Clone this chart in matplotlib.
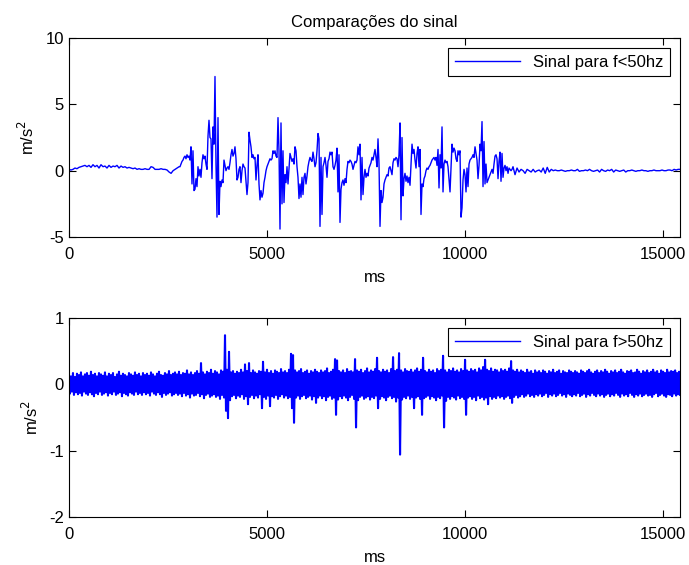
import numpy as np
import matplotlib.pyplot as plt

plt.rcParams['font.family'] = ['Liberation Sans', 'DejaVu Sans']
plt.rcParams['font.size'] = 12
plt.rcParams['axes.unicode_minus'] = False

# sinal filtrado f<50hz, em tres trechos (repouso, movimento, repouso)
baixa_ini = [0.1, 0.05, 0.1, 0.2, 0.15, 0.25, 0.3, 0.35, 0.4, 0.3, 0.4, 0.25, 0.45, 0.3, 0.4, 0.2, 0.45, 0.3, 0.35, 0.2,
             0.4, 0.25, 0.35, 0.3, 0.4, 0.2, 0.35, 0.25, 0.3, 0.2, 0.25, 0.2, 0.15, 0.2, 0.1, 0.15, 0.1, 0.1, 0.15, 0.1,
             0.1, 0.3, 0.25, 0.1, 0.1, 0.1, 0.15, 0.1, 0.1, 0.05, -0.1, -0.2, 0.0, 0.1, 0.2, 0.3]

baixa_mov = [0.3, 0.5, 0.7, 0.8, 1.0, 1.1, 0.9, 1.2, 1.0, 1.1, 0.8, 1.8, -1.0, 1.5, -1.5, -1.4, -0.6, -1.2, 0.3, -0.4,
             0.1, -0.5, 0.6, 1.2, 0.9, 1.1, 0.5, 0.1, 2.6, 3.8, 2.5, 2.4, -0.6, 3.3, 2.0, 7.1, 0.5, -3.5, 4.0, -3.3,
             -0.8, -1.2, -0.7, -0.9, 0.8, 0.4, 0.0, 0.2, 0.3, 0.1, 0.6, 1.2, 1.6, 1.1, 1.3, 1.8, 0.9, -0.7, -0.5, 0.1,
             0.3, -0.9, 0.0, 0.5, 0.3, 0.2, -0.8, -1.8, -0.9, 2.9, 2.3, 1.8, 1.0, 1.2, 0.9, 1.0, -0.7, 0.4, 1.2, -1.0,
             -2.2, -1.5, -2.0, -1.7, -0.9, -0.5, 0.0, 0.3, 0.5, 0.7, 0.9, 0.8, 0.9, 1.5, 1.3, 1.5, 1.1, 1.0, 4.0, 1.5,
             -4.4, 3.6, -2.5, 1.5, -2.4, -0.3, -0.9, 0.3, -1.0, 0.2, 1.3, 1.0, 0.7, 0.9, 0.5, 1.8, 1.5, 0.3, -0.5, -2.1,
             -1.0, -2.0, -0.5, -1.8, -0.5, -0.2, -1.0, -0.4, 0.3, 0.7, 1.0, 0.8, 0.7, 1.4, 0.9, 0.3, 0.6, 1.5, 2.8, 2.4,
             -4.2, 1.0, -3.3, 0.3, 0.6, 1.0, 0.4, -0.5, 0.7, 0.9, 1.4, 1.2, 1.4, 0.3, 0.1, 0.4, 0.8, 1.7, -1.6, 1.2,
             -3.9, -1.4, -0.9, -0.7, -1.1, -0.6, -0.9, 0.1, 0.7, 0.6, 0.8, 0.7, 0.5, 0.1, 0.4, 0.7, 0.6, 0.8, 1.8, 1.2,
             2.0, -2.2, 1.0, -1.8, -0.5, 0.1, -0.5, -0.2, -0.4, 0.2, 0.4, 0.6, 1.0, 0.8, 1.2, 1.6, 1.0, 0.3, 2.4, 0.5,
             -4.2, -1.5, -2.4, -2.0, -1.0, -0.7, -0.5, -0.3, -0.4, 0.2, 0.3, 0.0, -0.3, 0.6, 0.9, 0.8, 1.0, 0.9, 0.3, 1.2,
             3.6, -3.7, 2.5, -1.9, -0.6, -0.2, -0.8, -0.4, -0.9, -0.5, -1.1, 0.5, 2.0, 1.3, 1.6, 0.8, 0.2, 1.3, 1.8, 0.3,
             1.6, -3.3, -1.0, -1.2, -0.6, -0.4, 0.0, 0.2, 0.1, 0.3, 0.4, 0.6, 0.8, 0.9, 1.0, 0.8, 1.0, 0.4, 1.6, -1.3,
             1.2, 0.2, 3.3, -1.6, 0.5, 0.8, 0.6, 0.7, 0.3, -0.6, -1.6, 0.2, 2.0, 1.4, 1.7, 1.5, 0.9, 0.7, 1.5, 1.2,
             1.5, -3.5, -2.8, -0.7, 0.1, -0.3, -1.6, 0.2, -1.2, 0.5, 0.8, 0.9, 1.0, 1.2, 1.0, 1.8, 1.3, 0.8, -0.6, 0.4,
             2.0, 1.5, 3.7, -1.2, 2.2, -1.0, 0.5, -0.9, -0.7, -0.5, -0.3, -0.1, 0.1, -0.2, 0.5, 1.1, 1.2, 0.9, -0.6, 0.7,
             1.4, -0.8, 1.3, -0.5, 0.2, 0.4, 0.0, 0.3, -0.2, 0.2, 0.1, 0.0, 0.1]

baixa_fim = [0.3, -0.3, 0.2, -0.1, 0.1, 0.0, -0.2, 0.1, 0.0, -0.1, 0.1, -0.1, 0.0, 0.05, -0.1, 0.2, -0.2, 0.25, -0.1, 0.1,
             0.0, 0.05, 0.0, 0.0, 0.05, 0.0, -0.05, 0.0, 0.0, 0.05, 0.0, 0.0, 0.1, -0.05, 0.0, 0.0, 0.05, 0.0, 0.1, 0.0,
             -0.05, 0.0, 0.05, -0.1, 0.1, 0.0, -0.05, 0.05, 0.0, 0.1, -0.1, 0.05, 0.0, -0.05, 0.0, 0.05, -0.1, 0.0, 0.0, 0.05,
             0.0, -0.05, 0.0, 0.0, 0.05, 0.0, 0.0, -0.05, 0.0, 0.0, 0.05, 0.0, 0.0, 0.0, 0.05, 0.0, 0.0, 0.05, 0.05, 0.0,
             0.1, 0.05, 0.1, 0.1]

# sinal f>50hz: picos e vales alternados
alta_pico = [0.15, 0.12, 0.17, 0.11, 0.16, 0.14, 0.18, 0.12, 0.15, 0.17, 0.13, 0.19, 0.14, 0.16, 0.12, 0.17, 0.15, 0.13,
             0.18, 0.12, 0.16, 0.14, 0.17, 0.11, 0.15, 0.19, 0.13, 0.16, 0.14, 0.12, 0.17, 0.15, 0.13, 0.18, 0.14, 0.16,
             0.12, 0.17, 0.14, 0.16, 0.13, 0.18, 0.15, 0.12, 0.16, 0.19, 0.14, 0.13, 0.17, 0.15, 0.20, 0.14, 0.16, 0.18,
             0.15, 0.19, 0.14, 0.17, 0.16, 0.21, 0.15, 0.18, 0.14, 0.17, 0.20, 0.16, 0.32, 0.18, 0.15, 0.19, 0.17, 0.22,
             0.16, 0.20, 0.18, 0.15, 0.21, 0.19, 0.74, 0.22, 0.49, 0.18, 0.20, 0.16, 0.19, 0.17, 0.22, 0.18, 0.30, 0.20,
             0.32, 0.17, 0.21, 0.18, 0.16, 0.20, 0.19, 0.34, 0.18, 0.22, 0.17, 0.20, 0.16, 0.21, 0.19, 0.17, 0.23, 0.18,
             0.20, 0.17, 0.22, 0.46, 0.44, 0.21, 0.18, 0.20, 0.23, 0.17, 0.19, 0.21, 0.16, 0.20, 0.18, 0.22, 0.19, 0.17,
             0.21, 0.18, 0.20, 0.24, 0.17, 0.19, 0.22, 0.38, 0.36, 0.20, 0.18, 0.21, 0.17, 0.23, 0.19, 0.20, 0.18, 0.38,
             0.21, 0.19, 0.22, 0.17, 0.20, 0.24, 0.18, 0.21, 0.19, 0.23, 0.40, 0.20, 0.18, 0.22, 0.19, 0.21, 0.17, 0.23,
             0.41, 0.20, 0.22, 0.47, 0.21, 0.18, 0.23, 0.20, 0.19, 0.22, 0.18, 0.21, 0.24, 0.19, 0.22, 0.40, 0.20, 0.18,
             0.22, 0.19, 0.21, 0.17, 0.23, 0.20, 0.22, 0.43, 0.21, 0.18, 0.22, 0.20, 0.24, 0.19, 0.21, 0.18, 0.23, 0.20,
             0.37, 0.21, 0.19, 0.23, 0.20, 0.22, 0.18, 0.24, 0.21, 0.26, 0.37, 0.22, 0.20, 0.24, 0.19, 0.22, 0.21, 0.18,
             0.23, 0.20, 0.22, 0.19, 0.24, 0.35, 0.21, 0.19, 0.22, 0.18, 0.21, 0.19, 0.17, 0.22, 0.18, 0.20, 0.16, 0.21,
             0.18, 0.20, 0.17, 0.21, 0.19, 0.16, 0.20, 0.18, 0.22, 0.17, 0.19, 0.21, 0.16, 0.20, 0.18, 0.17, 0.21, 0.19,
             0.17, 0.20, 0.18, 0.16, 0.21, 0.19, 0.17, 0.20, 0.22, 0.18, 0.16, 0.19, 0.21, 0.17, 0.20, 0.18, 0.22, 0.19,
             0.16, 0.20, 0.18, 0.21, 0.17, 0.19, 0.22, 0.18, 0.16, 0.20, 0.19, 0.21, 0.17, 0.18, 0.22, 0.19, 0.16, 0.20,
             0.18, 0.21, 0.17, 0.19, 0.22, 0.18, 0.20, 0.16, 0.21, 0.19, 0.17, 0.22, 0.18, 0.20, 0.19, 0.21, 0.17, 0.19]

alta_vale = [-0.14, -0.11, -0.16, -0.12, -0.15, -0.13, -0.17, -0.11, -0.14, -0.16, -0.12, -0.15, -0.18, -0.13, -0.15, -0.11, -0.16, -0.14,
             -0.12, -0.17, -0.13, -0.15, -0.11, -0.16, -0.14, -0.12, -0.18, -0.13, -0.15, -0.17, -0.12, -0.14, -0.16, -0.11, -0.15, -0.13,
             -0.16, -0.12, -0.15, -0.13, -0.17, -0.11, -0.14, -0.16, -0.12, -0.15, -0.19, -0.13, -0.16, -0.14, -0.12, -0.17, -0.15, -0.13,
             -0.16, -0.14, -0.18, -0.13, -0.17, -0.15, -0.20, -0.14, -0.17, -0.16, -0.13, -0.18, -0.15, -0.21, -0.16, -0.14, -0.19, -0.17,
             -0.15, -0.19, -0.17, -0.22, -0.16, -0.20, -0.40, -0.51, -0.24, -0.18, -0.16, -0.21, -0.17, -0.19, -0.15, -0.22, -0.18, -0.30,
             -0.19, -0.16, -0.21, -0.17, -0.20, -0.15, -0.36, -0.19, -0.22, -0.17, -0.33, -0.18, -0.20, -0.16, -0.22, -0.18, -0.15, -0.20,
             -0.17, -0.21, -0.19, -0.36, -0.58, -0.20, -0.17, -0.22, -0.18, -0.16, -0.21, -0.19, -0.17, -0.23, -0.18, -0.28, -0.20, -0.17,
             -0.21, -0.18, -0.24, -0.19, -0.17, -0.22, -0.20, -0.46, -0.23, -0.18, -0.21, -0.17, -0.20, -0.24, -0.19, -0.16, -0.22, -0.65,
             -0.24, -0.19, -0.17, -0.22, -0.20, -0.18, -0.23, -0.19, -0.21, -0.17, -0.36, -0.22, -0.18, -0.20, -0.24, -0.19, -0.17, -0.21,
             -0.19, -0.26, -0.20, -1.06, -0.23, -0.19, -0.21, -0.17, -0.22, -0.19, -0.36, -0.20, -0.18, -0.22, -0.46, -0.21, -0.19, -0.17,
             -0.22, -0.18, -0.20, -0.24, -0.19, -0.21, -0.17, -0.65, -0.25, -0.19, -0.22, -0.18, -0.20, -0.23, -0.17, -0.21, -0.19, -0.22,
             -0.46, -0.20, -0.18, -0.22, -0.19, -0.24, -0.17, -0.21, -0.19, -0.23, -0.20, -0.30, -0.18, -0.22, -0.19, -0.21, -0.17, -0.20,
             -0.18, -0.22, -0.19, -0.17, -0.21, -0.28, -0.19, -0.16, -0.20, -0.18, -0.15, -0.19, -0.17, -0.14, -0.18, -0.16, -0.19, -0.15,
             -0.17, -0.14, -0.18, -0.16, -0.13, -0.19, -0.15, -0.17, -0.14, -0.18, -0.16, -0.13, -0.17, -0.15, -0.19, -0.14, -0.16, -0.18,
             -0.15, -0.17, -0.13, -0.18, -0.16, -0.14, -0.19, -0.15, -0.17, -0.13, -0.16, -0.18, -0.14, -0.17, -0.15, -0.19, -0.16, -0.14,
             -0.18, -0.15, -0.17, -0.13, -0.16, -0.19, -0.14, -0.17, -0.15, -0.18, -0.13, -0.16, -0.19, -0.15, -0.17, -0.14, -0.18, -0.16,
             -0.14, -0.17, -0.16, -0.19, -0.15, -0.13, -0.18, -0.16, -0.14, -0.17, -0.19, -0.15, -0.16, -0.18, -0.14, -0.17, -0.15, -0.16]

t_fim = 15430  # duracao total em ms

t_baixa = np.concatenate((np.linspace(0, 2780, len(baixa_ini)),
                          np.linspace(2803, 11186, len(baixa_mov)),
                          np.linspace(11211, t_fim, len(baixa_fim))))
baixa = np.concatenate((baixa_ini, baixa_mov, baixa_fim))

alta = np.column_stack((alta_pico, alta_vale)).ravel()
t_alta = np.linspace(0, t_fim, len(alta))

azul = '#0000ff'

fig = plt.figure(figsize=(6.89, 5.65), dpi=100)
ax1 = fig.add_axes([0.1001, 0.5805, 0.887, 0.3522])
ax2 = fig.add_axes([0.1001, 0.0850, 0.887, 0.3522])

ax1.plot(t_baixa, baixa, color=azul, lw=1.0, label='Sinal para f<50hz')
ax1.set_ylim(-5, 10)
ax1.set_yticks([-5, 0, 5, 10])
ax1.set_title('Comparações do sinal', fontsize=12, pad=8)

ax2.plot(t_alta, alta, color=azul, lw=1.5, label='Sinal para f>50hz')
ax2.set_ylim(-2, 1)
ax2.set_yticks([-2, -1, 0, 1])

for ax in (ax1, ax2):
    ax.set_xlim(0, t_fim)
    ax.set_xticks([0, 5000, 10000, 15000])
    ax.set_xlabel('ms', labelpad=6)
    ax.set_ylabel('m/s$^2$', labelpad=6)
    ax.tick_params(direction='in', top=True, right=True, length=5, width=0.8)
    ax.tick_params(axis='x', pad=7)
    for s in ax.spines.values():
        s.set_linewidth(0.8)
    leg = ax.legend(loc='upper right', fancybox=False, edgecolor='black',
                    framealpha=1, handlelength=3.9, borderaxespad=0.6)
    leg.get_frame().set_linewidth(0.8)
    for ln in leg.get_lines():
        ln.set_linewidth(1.0)

fig.savefig('out.png', dpi=100)
